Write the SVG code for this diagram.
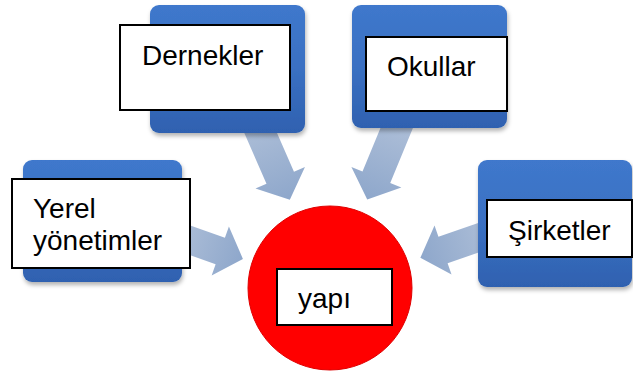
<svg xmlns="http://www.w3.org/2000/svg" width="633" height="374" viewBox="0 0 633 374">
<defs>
<linearGradient id="blueG" x1="0" y1="0" x2="0" y2="1">
<stop offset="0" stop-color="#3f78cc"/>
<stop offset="0.5" stop-color="#3a70c2"/>
<stop offset="1" stop-color="#2f61b0"/>
</linearGradient>
<linearGradient id="arrG" x1="0" y1="0" x2="1" y2="0">
<stop offset="0" stop-color="#aebfd8"/>
<stop offset="1" stop-color="#8ea7cb"/>
</linearGradient>
<filter id="sh" x="-10%" y="-10%" width="130%" height="130%">
<feGaussianBlur in="SourceAlpha" stdDeviation="2"/>
<feOffset dx="1" dy="3" result="b"/>
<feFlood flood-color="#000" flood-opacity="0.3"/>
<feComposite in2="b" operator="in"/>
<feMerge><feMergeNode/><feMergeNode in="SourceGraphic"/></feMerge>
</filter>
</defs>
<style>
.blue{fill:url(#blueG);filter:url(#sh)}
.lbl{fill:#fff;stroke:#000;stroke-width:2}
.t{font-family:"Liberation Sans",Arial,sans-serif;font-size:28px;fill:#000}
.arr{fill:url(#arrG)}
</style>
<g id="connectors">
<path class="arr" transform="translate(255,120) rotate(66.4)" d="M0,-15 L63,-15 L63,-27 L87,0 L63,27 L63,15 L0,15 Z"/>
<path class="arr" transform="translate(400,120) rotate(112.4)" d="M0,-15 L62,-15 L62,-27 L86,0 L62,27 L62,15 L0,15 Z"/>
<path class="arr" transform="translate(175,235) rotate(19.4)" d="M0,-14 L48,-14 L48,-26 L72,0 L48,26 L48,14 L0,14 Z"/>
<path class="arr" transform="translate(495,232) rotate(160.9)" d="M0,-14 L55,-14 L55,-26 L79,0 L55,26 L55,14 L0,14 Z"/>
</g>
<g id="yerel">
<rect class="blue" x="23" y="160" width="159" height="122" rx="9"/>
<rect class="lbl" x="12" y="179" width="178" height="89"/>
<text class="t" x="33" y="218">Yerel</text>
<text class="t" x="33" y="250">yönetimler</text>
</g>
<g id="dernekler">
<rect class="blue" x="150" y="5" width="155" height="128" rx="9"/>
<rect class="lbl" x="120" y="25" width="170" height="85"/>
<text class="t" x="142" y="65">Dernekler</text>
</g>
<g id="okullar">
<rect class="blue" x="352" y="5" width="155" height="123" rx="9"/>
<rect class="lbl" x="366" y="37" width="141" height="74"/>
<text class="t" x="387" y="76">Okullar</text>
</g>
<g id="sirketler">
<rect class="blue" x="478" y="160" width="154" height="127" rx="9"/>
<rect class="lbl" x="487" y="200" width="145" height="57"/>
<text class="t" x="508" y="240">Şirketler</text>
</g>
<g id="yapi">
<circle cx="330" cy="288" r="82" fill="#ff0000" stroke="#e00000" stroke-width="1"/>
<rect class="lbl" x="277" y="269" width="115" height="56"/>
<text class="t" x="298" y="308">yapı</text>
</g>
</svg>
